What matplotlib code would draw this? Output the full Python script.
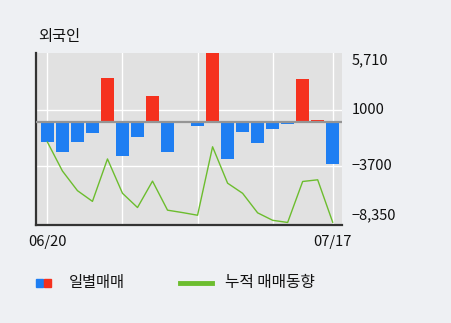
import numpy as np
import matplotlib.pyplot as plt
from matplotlib.patches import Rectangle
from matplotlib.lines import Line2D

plt.rcParams['font.family'] = ['Noto Sans CJK KR', 'DejaVu Sans']

# 일별 외국인 순매매 (20 거래일)
dates = ["06/20", "", "", "", "", "", "", "", "", "",
         "", "", "", "", "", "", "", "", "", "07/17"]
daily = [-1700, -2490, -1650, -900, 3610, -2830, -1230, 2180, -2490, 0,
         -310, 5710, -3080, -810, -1740, -560, -220, 3530, 110, -3500]
cumulative = [-1680, -4080, -5710, -6600, -3080, -5930, -7110, -4920, -7330, -7530,
              -7750, -2070, -5090, -5930, -7550, -8170, -8350, -4950, -4810, -8330]
ytick_vals = [5710, 1000, -3700, -8350]
ytick_labels = ["5,710", "1000", "\u22123700", "\u22128,350"]

W, H = 451, 323
fig = plt.figure(figsize=(W / 100, H / 100), dpi=100)
fig.patch.set_facecolor("#eef0f3")

ax = fig.add_axes([36 / W, 1 - 225 / H, (342 - 36) / W, (225 - 53) / H])
ax.set_facecolor("#e1e1e1")

x = np.arange(len(daily))
colors = ["#f5311e" if v > 0 else "#1e7ef2" for v in daily]

# 격자
for i in [0, 5, 10, 15, 19]:
    ax.axvline(i, color="white", lw=1.0, zorder=1)
for v in [1000, -3700]:
    ax.axhline(v, color="white", lw=1.0, zorder=1)

ax.bar(x, daily, width=0.87, color=colors, zorder=2)
ax.axhline(0, color="#959595", lw=1.6, zorder=3)
ax.plot(x, cumulative, color="#6cbd2e", lw=1.0, zorder=4)

ax.set_xlim(-0.76, 19.62)
ax.set_ylim(-8560, 5710)

for s in ["top", "right"]:
    ax.spines[s].set_visible(False)
for s in ["left", "bottom"]:
    ax.spines[s].set_color("#333333")
    ax.spines[s].set_linewidth(1.6)

ax.set_xticks(x)
ax.set_xticklabels(dates, fontsize=10.5, color="#111111")
ax.tick_params(axis="x", length=0, pad=7)

ax.yaxis.tick_right()
ax.set_yticks(ytick_vals)
ax.set_yticklabels(ytick_labels, fontsize=10.5, color="#111111")
ax.tick_params(axis="y", length=0, pad=7)
vas = ["top", "center", "center", "bottom"]
for lbl, va in zip(ax.get_yticklabels(), vas):
    lbl.set_verticalalignment(va)

fig.text(38 / W, 1 - 37 / H, "외국인", fontsize=11, va="center", ha="left",
         color="#111111")

# 범례
fig.patches.append(Rectangle((36 / W, 1 - 287 / H), 7 / W, 8 / H,
                             transform=fig.transFigure, color="#1e7ef2"))
fig.patches.append(Rectangle((44 / W, 1 - 287 / H), 7 / W, 8 / H,
                             transform=fig.transFigure, color="#f5311e"))
fig.text(69 / W, 1 - 283 / H, "일별매매", fontsize=11, va="center", ha="left",
         color="#111111")
fig.lines.append(Line2D([180 / W, 212 / W], [1 - 283 / H, 1 - 283 / H],
                        transform=fig.transFigure, color="#6cbd2e", lw=3.5))
fig.text(225 / W, 1 - 283 / H, "누적 매매동향", fontsize=11.3, va="center",
         ha="left", color="#111111")

fig.savefig("out.png", dpi=100, facecolor=fig.get_facecolor())
